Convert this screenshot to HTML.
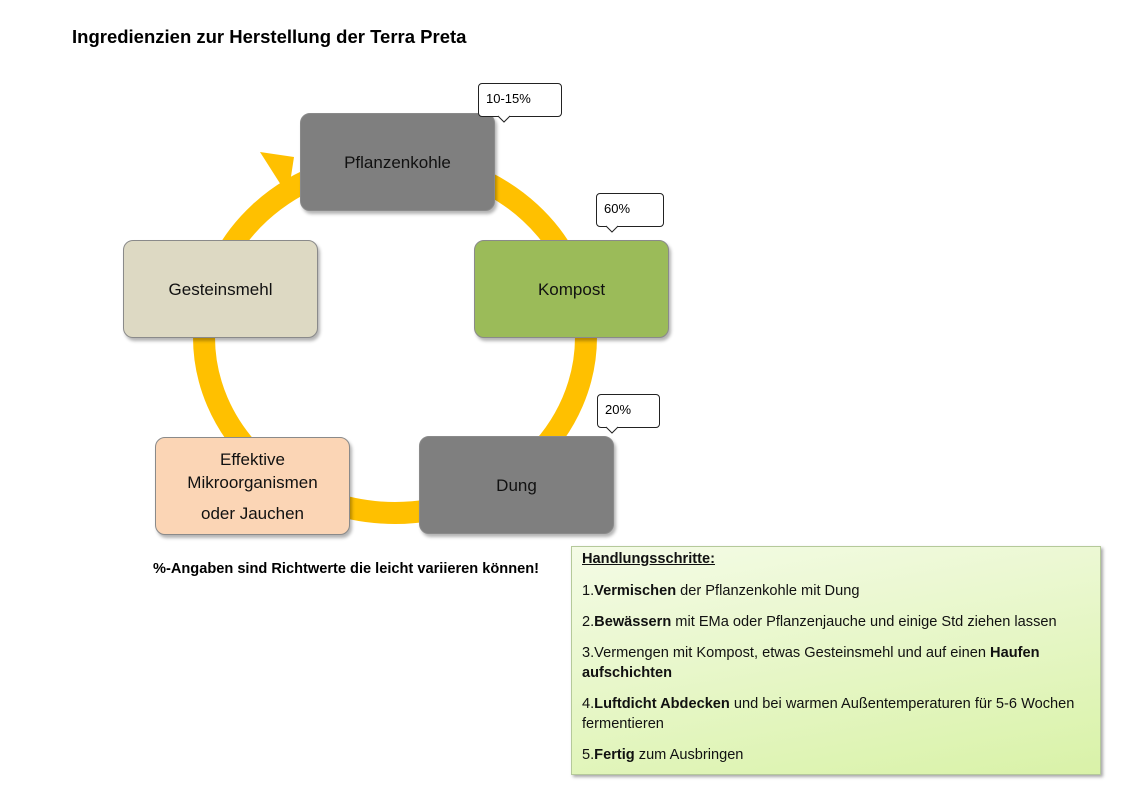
<!DOCTYPE html>
<html><head><meta charset="utf-8"><style>
body{margin:0;width:1123px;height:794px;background:#fff;position:relative;overflow:hidden;font-family:"Liberation Sans",sans-serif}
.t{position:absolute;left:72px;top:26px;font-weight:bold;font-size:18.5px;color:#000}
.box{position:absolute;width:195px;height:98px;border-radius:10px;border:1px solid #8a8a8a;box-shadow:2px 3px 3px rgba(0,0,0,.3);display:flex;align-items:center;justify-content:center;text-align:center;font-size:17px;color:#111;line-height:25px;box-sizing:border-box}
.c{position:absolute;border:1px solid #222;border-radius:4px;background:#fff;font-size:13px;padding:7px 0 0 7px;box-sizing:border-box}
.note{position:absolute;left:153px;top:561px;font-weight:bold;font-size:14.6px;white-space:nowrap}
.hb{position:absolute;left:571px;top:546px;width:530px;height:229px;box-sizing:border-box;border:1px solid #b5c99a;box-shadow:2px 2px 3px rgba(0,0,0,.35);background:linear-gradient(170deg,#f4fbe6,#d9f2a8);font-size:14.6px;padding:2px 10px;color:#111}
.hb p{margin:0 0 11px 0;line-height:20px;white-space:nowrap}
.hb p.h{margin-bottom:12px}
</style></head><body>
<div class="t">Ingredienzien zur Herstellung der Terra Preta</div>
<svg width="1123" height="794" style="position:absolute;left:0;top:0">
<ellipse cx="395" cy="337" rx="191" ry="176" fill="none" stroke="#ffc000" stroke-width="22"/>
<polygon points="260,152 294,157 288,196" fill="#ffc000"/>
</svg>
<div class="box" style="left:300px;top:113px;background:#7f7f7f;align-items:flex-start;padding-top:36px">Pflanzenkohle</div>
<div class="box" style="left:474px;top:240px;background:#9bbb59">Kompost</div>
<div class="box" style="left:123px;top:240px;background:#ddd9c3">Gesteinsmehl</div>
<div class="box" style="left:419px;top:436px;background:#7f7f7f">Dung</div>
<div class="box" style="left:155px;top:437px;background:#fbd5b5;flex-direction:column;line-height:23px">Effektive<br>Mikroorganismen<div style="margin-top:8px">oder Jauchen</div></div>
<div class="c" style="left:478px;top:83px;width:84px;height:34px">10-15%</div>
<div class="c" style="left:596px;top:193px;width:68px;height:34px">60%</div>
<div class="c" style="left:597px;top:394px;width:63px;height:34px">20%</div>
<svg width="1123" height="794" style="position:absolute;left:0;top:0">
<path d="M498,116 l6,6 l6,-6" fill="#fff" stroke="#222"/>
<path d="M606,226 l6,6 l6,-6" fill="#fff" stroke="#222"/>
<path d="M606,427 l6,6 l6,-6" fill="#fff" stroke="#222"/>
<path d="M499,115 l5,6 l5,-6" fill="#fff"/><path d="M607,225 l5,6 l5,-6" fill="#fff"/><path d="M607,426 l5,6 l5,-6" fill="#fff"/>
</svg>
<div class="note">%-Angaben sind Richtwerte die leicht variieren können!</div>
<div class="hb">
<p class="h"><b><u>Handlungsschritte:</u></b></p>
<p>1.<b>Vermischen</b> der Pflanzenkohle mit Dung</p>
<p>2.<b>Bewässern</b> mit EMa oder Pflanzenjauche und einige Std ziehen lassen</p>
<p>3.Vermengen mit Kompost, etwas Gesteinsmehl und auf einen <b>Haufen</b><br><b>aufschichten</b></p>
<p>4.<b>Luftdicht Abdecken</b> und bei warmen Außentemperaturen für 5-6 Wochen<br>fermentieren</p>
<p>5.<b>Fertig</b> zum Ausbringen</p>
</div>
</body></html>
